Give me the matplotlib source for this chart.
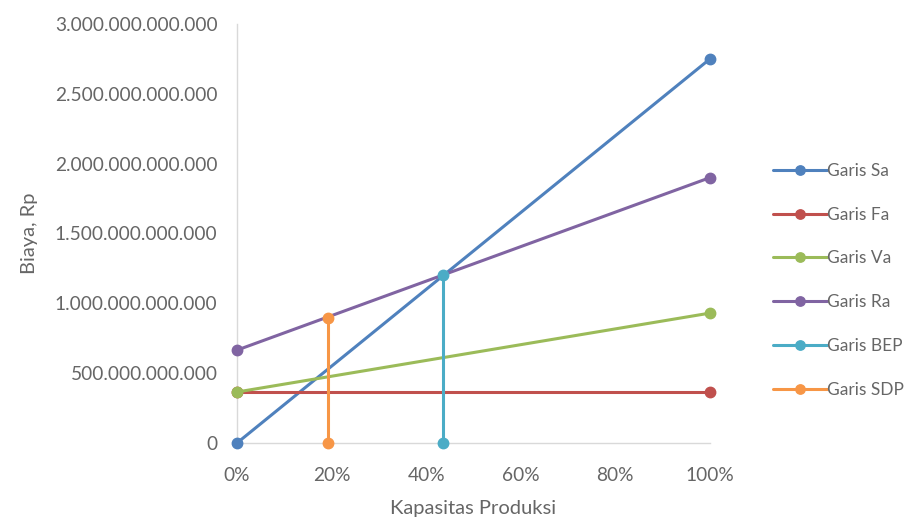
import matplotlib
matplotlib.use('Agg')
from matplotlib import pyplot as plt
from matplotlib.ticker import FuncFormatter, MultipleLocator

# Data garis biaya (kapasitas sebagai fraksi, biaya dalam Rp)
kapasitas = [0.0, 1.0]
garis_sa = [0, 2750000000000]
garis_fa = [365000000000, 365000000000]
garis_va = [365000000000, 930000000000]
garis_ra = [665000000000, 1900000000000]

bep_x = [0.436, 0.436]
bep_y = [0, 1203000000000]
sdp_x = [0.192, 0.192]
sdp_y = [0, 895000000000]

nama = ['Garis Sa', 'Garis Fa', 'Garis Va', 'Garis Ra', 'Garis BEP', 'Garis SDP']
warna = ['#4F81BD', '#C0504D', '#9BBB59', '#8064A2', '#4BACC6', '#F79646']

plt.rcParams['font.family'] = ['Lato', 'DejaVu Sans']
abu = '#666666'

fig = plt.figure(figsize=(9.2, 5.24), dpi=100)
ax = fig.add_axes([0.2576, 0.1546, 0.5141, 0.7996])

seri = [(kapasitas, garis_sa), (kapasitas, garis_fa), (kapasitas, garis_va),
        (kapasitas, garis_ra), (bep_x, bep_y), (sdp_x, sdp_y)]
for (xs, ys), lbl, c in zip(seri, nama, warna):
    ax.plot(xs, ys, color=c, lw=2.2, marker='o', ms=7.5, label=lbl,
            clip_on=False, solid_capstyle='round')

ax.set_xlim(0, 1)
ax.set_ylim(0, 3000000000000)
ax.xaxis.set_major_locator(MultipleLocator(0.2))
ax.yaxis.set_major_locator(MultipleLocator(500000000000))
ax.xaxis.set_major_formatter(FuncFormatter(lambda v, p: '{:.0f}%'.format(v * 100)))
ax.yaxis.set_major_formatter(FuncFormatter(lambda v, p: '{:,.0f}'.format(v).replace(',', '.')))

for s in ['top', 'right']:
    ax.spines[s].set_visible(False)
for s in ['left', 'bottom']:
    ax.spines[s].set_color('#D9D9D9')
    ax.spines[s].set_linewidth(1)
    ax.spines[s].set_zorder(0)

ax.tick_params(axis='both', length=0, labelsize=13.8, colors=abu)
ax.tick_params(axis='y', pad=14)
ax.tick_params(axis='x', pad=17)

ax.set_xlabel('Kapasitas Produksi', fontsize=14.5, color=abu, labelpad=12)
ax.set_ylabel('Biaya, Rp', fontsize=14.5, color=abu, labelpad=12)

fig.legend(loc='center left', bbox_to_anchor=(0.823, 0.465), frameon=False,
           fontsize=12.5, labelcolor=abu, handlelength=3.1, handletextpad=0.05,
           labelspacing=1.6, markerscale=0.9)

fig.savefig('out.png', dpi=100)
